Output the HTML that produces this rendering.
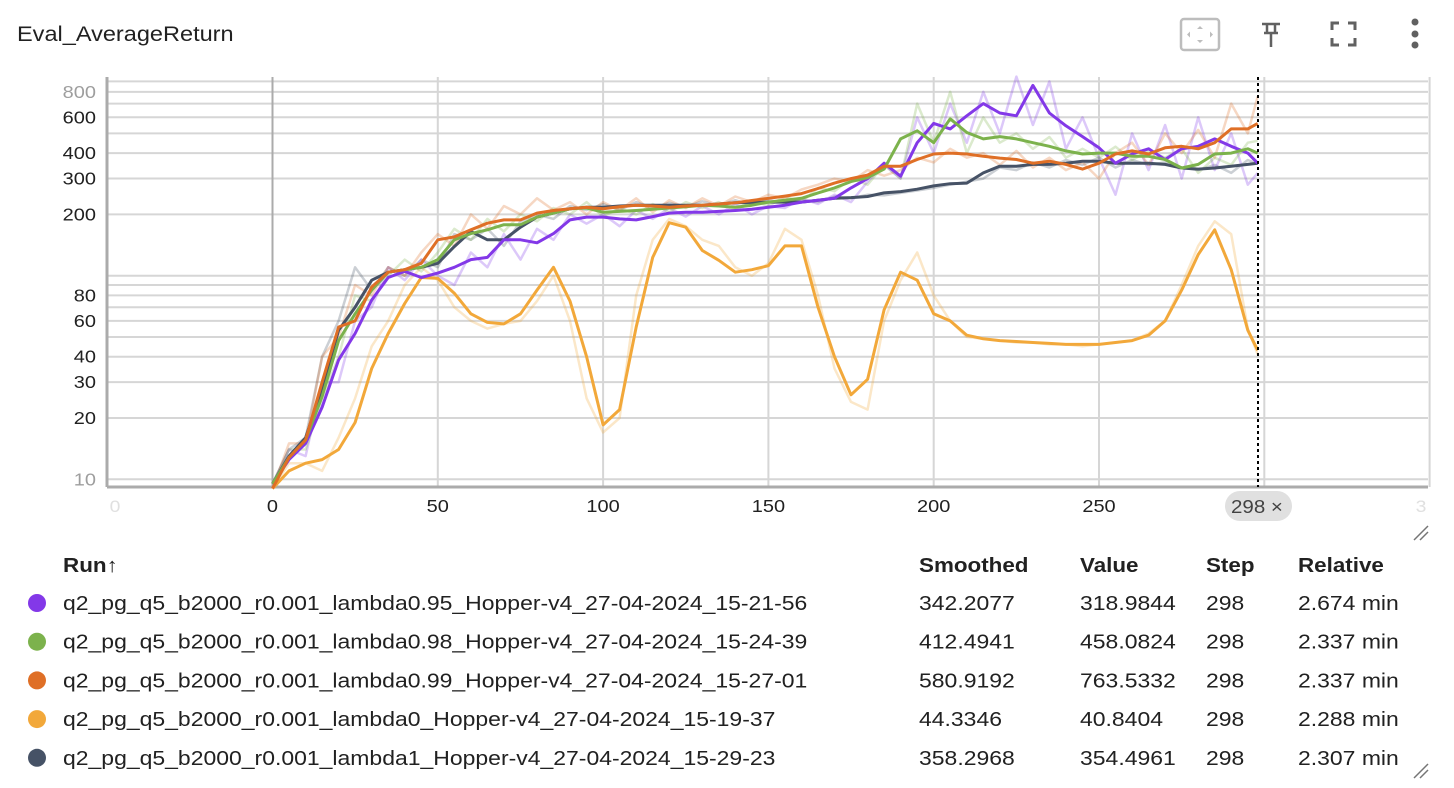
<!DOCTYPE html>
<html><head><meta charset="utf-8">
<style>
body{margin:0;background:#fff;font-family:"Liberation Sans",Arial,sans-serif;color:#212121;}
#wrap{position:relative;width:1454px;height:788px;overflow:hidden;}
svg text{font-family:"Liberation Sans",Arial,sans-serif;}
</style></head>
<body>
<div id="wrap">
<svg id="svg" width="1454" height="788" xmlns="http://www.w3.org/2000/svg">
  <text x="17" y="41" font-size="21" fill="#212121">Eval_AverageReturn</text>
  <g>
    <rect x="1181" y="19" width="38" height="31" rx="3" fill="none" stroke="#bdbdbd" stroke-width="2.5"/>
    <path d="M1200 26 l-3 3 h6z M1200 43 l-3 -3 h6z M1187 34.5 l3 -3 v6z M1213 34.5 l-3 -3 v6z" fill="#bdbdbd"/>
  </g>
  <g stroke="#616161" stroke-width="2.5" fill="none">
    <path d="M1262 24 h18 M1264 33 h14 M1267 24 v9 M1275 24 v9 M1271 33 v14"/>
  </g>
  <g stroke="#616161" stroke-width="3" fill="none">
    <path d="M1332 30 v-7 h7 M1348 23 h7 v7 M1355 38 v7 h-7 M1339 45 h-7 v-7"/>
  </g>
  <g fill="#616161">
    <circle cx="1415" cy="22" r="3.5"/><circle cx="1415" cy="34" r="3.5"/><circle cx="1415" cy="45" r="3.5"/>
  </g>
  <g id="grid"></g>
  <g id="axes"></g>
  <g id="series"></g>
  <line x1="1258" y1="77" x2="1258" y2="487" stroke="#000" stroke-width="2" stroke-dasharray="3,3"/>
  <g>
    <rect x="1225" y="491" width="67" height="30" rx="15" fill="#e0e0e0"/>
    <text x="1231" y="513" font-size="18" fill="#424242">298 ×</text>
  </g>
  <g stroke="#757575" stroke-width="1.5">
    <line x1="1414" y1="540" x2="1428" y2="526"/><line x1="1420" y1="540" x2="1428" y2="532"/>
    <line x1="1414" y1="778" x2="1428" y2="764"/><line x1="1420" y1="778" x2="1428" y2="770"/>
  </g>
  <g id="legend"></g>
</svg>
</div>
<script>
const steps=[0,5,10,15,20,25,30,35,40,45,50,55,60,65,70,75,80,85,90,95,100,105,110,115,120,125,130,135,140,145,150,155,160,165,170,175,180,185,190,195,200,205,210,215,220,225,230,235,240,245,250,255,260,265,270,275,280,285,290,295,298];
const purpleSmooth=[9.5,12.5,15,22.6,38.6,52,76,98,105,98,103,110,120,123,150,150,145,161,188,194,194,190,188,195,203,205,205,207,209,212,217,222,230,235,240,270,300,357,308,450,560,526,610,700,630,610,860,630,545,482,425,357,396,420,372,420,432,470,432,400,357];
const purpleRaw=[9.5,14,13,30,30,60,70,110,95,120,100,90,130,110,160,120,170,150,200,180,200,175,210,190,215,195,220,200,225,200,220,215,240,225,250,230,290,350,300,600,400,700,450,800,500,950,550,900,420,600,380,250,500,330,550,300,600,330,500,280,320];
const greenSmooth=[9.5,12.8,15.6,25.5,48,65,85,104,107,110,120,150,161,168,178,178,194,203,213,215,205,207,209,212,215,218,222,220,217,222,230,235,240,255,270,290,303,334,470,515,450,590,505,470,482,470,450,432,410,396,400,400,386,386,372,338,352,396,400,420,400];
const greenRaw=[9.5,14,14,25,40,80,75,100,120,105,130,170,150,190,165,200,185,215,200,230,195,215,200,225,205,230,215,230,210,235,220,245,230,270,260,300,280,350,300,700,450,800,400,600,450,500,420,480,380,420,380,430,370,410,380,420,320,380,350,450,460];
const orangeSmooth=[9,12.8,15.6,30,56,60,88,104,107,115,150,155,168,181,188,188,203,209,213,217,213,218,222,220,217,220,222,225,228,234,240,246,253,268,285,300,312,345,345,372,396,400,396,386,378,372,357,365,352,334,357,396,410,396,425,432,420,450,526,526,560];
const orangeRaw=[9,15,15,40,50,90,80,110,100,130,160,140,200,170,220,200,240,210,230,200,230,210,240,205,235,215,240,220,245,230,250,240,265,280,300,290,330,310,330,380,360,420,380,400,350,410,340,380,330,360,300,400,450,350,500,400,520,380,700,500,760];
const yellowSmooth=[9,11,12,12.5,14,19,35,52,73,98,97,82,65,59,58,65,85,110,75,40,18.5,22,56,123,182,173,133,119,104,107,112,140,140,70,40,26,31,68,104,95,65,60,51,49,48,47.5,47,46.5,46,46,46,47,48,51,60,85,127,168,107,54,43];
const yellowRaw=[9,12,12,11,16,25,45,60,90,110,95,70,60,55,58,60,75,100,60,25,17,20,80,150,190,175,150,140,110,100,115,170,150,80,35,24,22,60,95,130,80,60,50,49,48,47,47,46,46,45,46,47,48,52,60,90,140,185,160,55,41];
const darkSmooth=[9.5,13,16,28,54,70,95,104,107,110,115,139,165,150,150,173,194,203,213,217,217,220,222,222,222,222,222,225,228,229,230,230,230,235,240,242,245,255,259,266,276,283,285,320,345,345,352,352,357,365,365,357,357,357,352,338,334,338,345,352,357];
const darkRaw=[9.5,14,16,40,60,110,85,110,100,120,110,160,150,170,140,185,200,190,220,210,225,210,230,215,228,218,232,220,235,222,235,228,235,230,245,240,250,248,255,262,270,280,290,300,340,330,360,340,370,350,380,340,370,350,360,340,330,350,320,370,354];
const xTicks=[0,50,100,150,200,250];
const yTickLabels=[10,20,30,40,60,80,200,300,400,600,800];
const yGrid=[10,20,30,40,50,60,70,80,90,100,200,300,400,500,600,700,800,900];
const runNames=["q2_pg_q5_b2000_r0.001_lambda0.95_Hopper-v4_27-04-2024_15-21-56","q2_pg_q5_b2000_r0.001_lambda0.98_Hopper-v4_27-04-2024_15-24-39","q2_pg_q5_b2000_r0.001_lambda0.99_Hopper-v4_27-04-2024_15-27-01","q2_pg_q5_b2000_r0.001_lambda0_Hopper-v4_27-04-2024_15-19-37","q2_pg_q5_b2000_r0.001_lambda1_Hopper-v4_27-04-2024_15-29-23"];
const smoothedVals=["342.2077","412.4941","580.9192","44.3346","358.2968"];
const valueVals=["318.9844","458.0824","763.5332","40.8404","354.4961"];
const stepVals=["298","298","298","298","298"];
const relVals=["2.674 min","2.337 min","2.337 min","2.288 min","2.307 min"];

const NS="http://www.w3.org/2000/svg";
const L=107,R=1428,T=77,B=487;
const x=s=>272.5+s*3.306;
const y=v=>479.3-(Math.log10(v)-1)*203.6;
function mk(tag,attrs,parent){const e=document.createElementNS(NS,tag);for(const k in attrs)e.setAttribute(k,attrs[k]);parent.appendChild(e);return e;}
const grid=document.getElementById('grid'),axes=document.getElementById('axes'),ser=document.getElementById('series'),leg=document.getElementById('legend');
yGrid.forEach(v=>{const l=mk('line',{x1:L,x2:R,y1:y(v),y2:y(v),stroke:'#d6d6d6','stroke-width':2},grid);

});
[-50,50,100,150,200,250,300,350].forEach(s=>{const l=mk('line',{x1:x(s),x2:x(s),y1:T,y2:B,stroke:'#d6d6d6','stroke-width':2},grid);

});
let a=mk('line',{x1:x(0),x2:x(0),y1:T,y2:B,stroke:'#ababab','stroke-width':2},axes);


a=mk('line',{x1:L,x2:L,y1:T,y2:B,stroke:'#ababab','stroke-width':3},axes);


a=mk('line',{x1:L,x2:R,y1:B,y2:B,stroke:'#ababab','stroke-width':3},axes);


yTickLabels.forEach(v=>{const t=mk('text',{x:96,y:y(v)+6,'text-anchor':'end','font-size':17.5,fill:(v===10||v===800)?'#9e9e9e':'#212121'},axes);t.textContent=v;

});
xTicks.forEach(s=>{const t=mk('text',{x:x(s),y:512,'text-anchor':'middle','font-size':17.5,fill:'#212121'},axes);t.textContent=s;

});
let t=mk('text',{x:115,y:512,'text-anchor':'middle','font-size':17,fill:'#e0e0e0'},axes);t.textContent='0';


t=mk('text',{x:1421,y:512,'text-anchor':'middle','font-size':17,fill:'#e0e0e0'},axes);t.textContent='3';



const colors=['#8338e8','#7cb24c','#df6f26','#f2a83a','#465266'];
const raws=[purpleRaw,greenRaw,orangeRaw,yellowRaw,darkRaw];
const smooths=[purpleSmooth,greenSmooth,orangeSmooth,yellowSmooth,darkSmooth];
const names=['purple','green','orange','yellow','dark'];
const pts=arr=>arr.map((v,i)=>x(steps[i]).toFixed(1)+','+y(v).toFixed(1)).join(' ');
const order=[3,4,0,1,2];
order.forEach(i=>{const p=mk('polyline',{points:pts(raws[i]),fill:'none',stroke:colors[i],'stroke-opacity':0.28,'stroke-width':2.5,'stroke-linejoin':'round'},ser);

});
order.forEach(i=>{const p=mk('polyline',{points:pts(smooths[i]),fill:'none',stroke:colors[i],'stroke-width':3,'stroke-linejoin':'round'},ser);

});

const hdr=[['Run↑',63],['Smoothed',919],['Value',1080],['Step',1206],['Relative',1298]];
hdr.forEach(h=>{const e=mk('text',{x:h[1],y:572,'font-size':20,'font-weight':'bold',fill:'#212121'},leg);e.textContent=h[0];

});
runNames.forEach((n,i)=>{const yy=603+i*38.7;
const c=mk('circle',{cx:37,cy:yy,r:9,fill:colors[i]},leg);


const cells=[[n,63],[smoothedVals[i],919],[valueVals[i],1080],[stepVals[i],1206],[relVals[i],1298]];
cells.forEach(cl=>{const e=mk('text',{x:cl[1],y:yy+7,'font-size':20.5,fill:'#212121'},leg);e.textContent=cl[0];

});});

// widen text to match reference font metrics
document.querySelectorAll('svg text').forEach(el=>{
  const w=el.getComputedTextLength();
  const f=parseFloat(el.getAttribute('font-size'))>=20?1.12:1.14;
  el.setAttribute('textLength',(w*f).toFixed(1));
  el.setAttribute('lengthAdjust','spacingAndGlyphs');
});
</script>
</body></html>
